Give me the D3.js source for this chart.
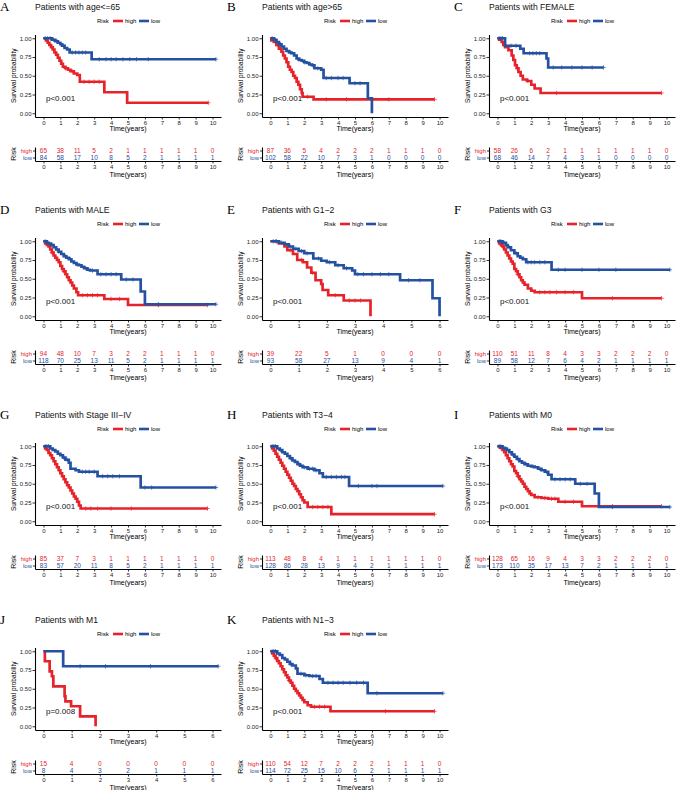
<!DOCTYPE html>
<html>
<head>
<meta charset="utf-8">
<script src="https://cdn.jsdelivr.net/npm/d3@7"></script>
<style>
  body { margin: 0; background: #fff; }
  text { font-family: "Liberation Sans", Arial, sans-serif; }
</style>
</head>
<body>
<div id="chart"></div>
<script>
// ---- data ----
var panelLetters = ["A", "B", "C", "D", "E", "F", "G", "H", "I", "J", "K"];
var panelTitles = ["Patients with age<=65", "Patients with age>65", "Patients with FEMALE",
  "Patients with MALE", "Patients with G1\u22122", "Patients with G3",
  "Patients with Stage III\u2212IV", "Patients with T3\u22124", "Patients with M0",
  "Patients with M1", "Patients with N1\u22123"];
var pValues = ["p<0.001", "p<0.001", "p<0.001", "p<0.001", "p<0.001", "p<0.001",
  "p<0.001", "p<0.001", "p<0.001", "p=0.008", "p<0.001"];
var timeMax = [10, 10, 10, 10, 6, 10, 10, 10, 10, 6, 10];

// survival steps [time, probability]
var ageLe65High = [[0,1],[0.15,0.97],[0.25,0.94],[0.35,0.91],[0.45,0.88],[0.55,0.85],[0.65,0.81],[0.75,0.78],[0.85,0.74],[0.95,0.7],[1.05,0.66],[1.15,0.62],[1.3,0.6],[1.45,0.58],[1.6,0.56],[1.8,0.53],[2.0,0.51],[2.15,0.42],[3.6,0.28],[4.95,0.14],[9.75,0.14]];
var ageLe65Low = [[0,1],[0.5,0.98],[0.7,0.96],[0.85,0.94],[1.0,0.92],[1.1,0.9],[1.25,0.87],[1.4,0.85],[1.55,0.81],[2.85,0.72],[10.2,0.72]];
var ageGt65High = [[0,1],[0.05,0.97],[0.2,0.95],[0.35,0.91],[0.5,0.86],[0.65,0.82],[0.75,0.77],[0.85,0.73],[0.95,0.68],[1.05,0.62],[1.15,0.58],[1.25,0.55],[1.35,0.5],[1.45,0.47],[1.55,0.42],[1.65,0.38],[1.75,0.32],[1.85,0.27],[1.9,0.22],[2.55,0.185],[9.7,0.185]];
var ageGt65Low = [[0,1],[0.2,0.98],[0.35,0.95],[0.5,0.92],[0.65,0.89],[0.8,0.86],[0.95,0.83],[1.1,0.81],[1.25,0.8],[1.4,0.77],[1.55,0.73],[1.7,0.71],[1.85,0.7],[2.0,0.68],[2.15,0.67],[2.3,0.65],[2.45,0.64],[2.6,0.6],[3.0,0.58],[3.14,0.47],[4.68,0.4],[5.76,0.2],[6.0,0]];
var femaleHigh = [[0,1],[0.1,0.98],[0.25,0.95],[0.35,0.91],[0.45,0.88],[0.65,0.84],[0.84,0.77],[0.94,0.71],[1.04,0.64],[1.14,0.6],[1.24,0.55],[1.37,0.5],[1.5,0.45],[1.75,0.43],[2.0,0.38],[2.2,0.33],[2.55,0.27],[9.7,0.27]];
var femaleLow = [[0,1],[0.45,0.9],[1.35,0.86],[1.55,0.8],[2.9,0.73],[3.0,0.61],[6.27,0.61]];
var maleHigh = [[0,1],[0.1,0.97],[0.2,0.95],[0.3,0.93],[0.4,0.89],[0.5,0.85],[0.6,0.81],[0.7,0.78],[0.8,0.75],[0.9,0.72],[1.0,0.67],[1.1,0.63],[1.2,0.6],[1.3,0.56],[1.4,0.52],[1.5,0.48],[1.6,0.45],[1.7,0.41],[1.8,0.37],[1.95,0.32],[2.05,0.28],[3.6,0.23],[5.0,0.15],[9.7,0.15]];
var maleLow = [[0,1],[0.2,0.98],[0.3,0.97],[0.45,0.95],[0.6,0.92],[0.75,0.89],[0.9,0.86],[1.05,0.83],[1.2,0.8],[1.35,0.78],[1.5,0.76],[1.65,0.73],[1.8,0.71],[1.95,0.69],[2.1,0.68],[2.25,0.66],[2.4,0.64],[2.6,0.62],[2.75,0.61],[3.2,0.56],[4.6,0.49],[5.75,0.33],[6.0,0.16],[10.2,0.16]];
var g12High = [[0,1],[0.3,0.97],[0.5,0.93],[0.6,0.88],[0.8,0.83],[0.95,0.75],[1.15,0.72],[1.3,0.65],[1.45,0.58],[1.6,0.48],[1.8,0.43],[1.85,0.35],[2.05,0.28],[2.6,0.21],[3.55,0]];
var g12Low = [[0,1],[0.3,0.98],[0.5,0.96],[0.65,0.93],[0.8,0.9],[1.0,0.87],[1.2,0.84],[1.52,0.77],[1.8,0.74],[2.0,0.72],[2.3,0.68],[2.6,0.64],[2.9,0.61],[3.0,0.56],[4.6,0.48],[5.75,0.24],[6.0,0]];
var g3High = [[0,1],[0.1,0.97],[0.2,0.95],[0.3,0.93],[0.4,0.89],[0.5,0.85],[0.6,0.81],[0.7,0.77],[0.8,0.73],[0.9,0.7],[1.0,0.63],[1.1,0.6],[1.2,0.56],[1.3,0.52],[1.4,0.48],[1.5,0.45],[1.6,0.42],[1.8,0.37],[2.0,0.34],[2.2,0.32],[5.0,0.24],[9.7,0.24]];
var g3Low = [[0,1],[0.3,0.98],[0.5,0.95],[0.6,0.92],[0.8,0.88],[1.0,0.84],[1.2,0.8],[1.35,0.78],[1.5,0.76],[1.7,0.72],[3.2,0.62],[10.2,0.62]];
var stageHigh = [[0,1],[0.1,0.97],[0.2,0.95],[0.3,0.91],[0.4,0.88],[0.5,0.84],[0.6,0.8],[0.7,0.76],[0.8,0.72],[0.9,0.68],[1.0,0.64],[1.1,0.6],[1.2,0.56],[1.3,0.52],[1.4,0.48],[1.5,0.45],[1.6,0.41],[1.7,0.37],[1.8,0.33],[1.9,0.3],[2.0,0.26],[2.1,0.21],[2.2,0.17],[9.7,0.17]];
var stageLow = [[0,1],[0.4,0.97],[0.55,0.95],[0.7,0.93],[0.85,0.9],[1.0,0.88],[1.15,0.85],[1.3,0.82],[1.5,0.78],[1.6,0.7],[1.9,0.68],[2.1,0.66],[3.2,0.6],[5.75,0.45],[10.2,0.45]];
var t34High = [[0,1],[0.1,0.97],[0.2,0.94],[0.3,0.9],[0.4,0.86],[0.5,0.82],[0.6,0.78],[0.7,0.74],[0.8,0.7],[0.9,0.66],[1.0,0.62],[1.1,0.58],[1.2,0.54],[1.3,0.5],[1.4,0.47],[1.5,0.43],[1.6,0.4],[1.7,0.36],[1.8,0.32],[1.9,0.28],[2.0,0.25],[2.2,0.19],[3.6,0.094],[9.7,0.094]];
var t34Low = [[0,1],[0.4,0.97],[0.55,0.95],[0.7,0.92],[0.85,0.9],[1.0,0.87],[1.15,0.84],[1.3,0.81],[1.45,0.79],[1.6,0.76],[1.75,0.74],[1.9,0.72],[2.2,0.7],[2.6,0.68],[2.9,0.64],[3.1,0.59],[4.65,0.47],[10.2,0.47]];
var m0High = [[0,1],[0.15,0.98],[0.3,0.95],[0.4,0.92],[0.5,0.88],[0.6,0.84],[0.7,0.8],[0.8,0.76],[0.9,0.73],[1.0,0.67],[1.1,0.64],[1.2,0.6],[1.3,0.56],[1.4,0.53],[1.5,0.5],[1.6,0.46],[1.7,0.43],[1.8,0.4],[1.9,0.37],[2.0,0.35],[2.2,0.32],[2.6,0.31],[3.0,0.3],[3.6,0.26],[5.0,0.2],[9.7,0.2]];
var m0Low = [[0,1],[0.3,0.98],[0.4,0.97],[0.55,0.95],[0.7,0.92],[0.85,0.89],[1.0,0.86],[1.15,0.83],[1.3,0.8],[1.45,0.78],[1.6,0.76],[1.8,0.74],[2.0,0.73],[2.2,0.72],[2.4,0.7],[2.6,0.68],[2.8,0.66],[3.0,0.62],[3.2,0.56],[4.6,0.5],[5.75,0.37],[6.0,0.19],[10.2,0.19]];
var m1High = [[0,1],[0.05,0.867],[0.22,0.733],[0.3,0.667],[0.35,0.533],[0.75,0.4],[0.78,0.333],[0.98,0.267],[1.3,0.133],[1.85,0]];
var m1Low = [[0,1],[0.7,0.8],[6.2,0.8]];
var n13High = [[0,1],[0.1,0.97],[0.2,0.94],[0.3,0.91],[0.4,0.87],[0.5,0.84],[0.6,0.8],[0.7,0.76],[0.8,0.72],[0.9,0.68],[1.0,0.65],[1.1,0.61],[1.2,0.58],[1.3,0.54],[1.4,0.5],[1.5,0.47],[1.6,0.44],[1.7,0.41],[1.8,0.38],[1.9,0.35],[2.0,0.32],[2.2,0.28],[2.4,0.26],[3.55,0.2],[9.7,0.2]];
var n13Low = [[0,1],[0.4,0.97],[0.55,0.95],[0.7,0.91],[0.85,0.89],[1.0,0.86],[1.15,0.83],[1.3,0.81],[1.5,0.77],[1.6,0.7],[2.0,0.68],[2.3,0.67],[2.9,0.63],[3.1,0.58],[5.75,0.44],[10.2,0.44]];

// censoring times
var ageLe65HighCens = [0.5,1.3,1.7,2.4,2.7,3.0,3.3,9.75];
var ageLe65LowCens = [0.1,0.25,0.4,0.6,0.8,1.2,1.7,1.9,2.1,2.3,2.5,3.3,3.7,4.0,4.3,4.7,5.1,5.5,6.2,10.2];
var ageGt65HighCens = [0.4,1.0,2.2,3.3,4.5,6.0,7.0,9.7];
var ageGt65LowCens = [0.1,0.3,0.6,1.2,1.6,2.0,2.5,2.8,3.3,3.6,4.0,4.3,5.0,5.3];
var femaleHighCens = [1.2,1.8,3.5,9.7];
var femaleLowCens = [0.1,0.2,0.3,0.8,1.1,1.9,2.1,2.3,2.5,3.3,3.8,4.4,5.0,5.6,6.27];
var maleHighCens = [0.5,1.2,2.3,2.6,2.9,3.2,4.0,4.5,6.8,9.7];
var maleLowCens = [0.1,0.25,0.5,0.9,1.3,1.6,2.0,2.5,2.9,3.4,3.7,4.0,4.3,4.9,5.3,6.8,10.2];
var g12HighCens = [0.2,0.7,1.1,1.5,2.3,2.8,3.0,3.2];
var g12LowCens = [0.1,0.2,0.4,0.7,0.9,1.1,1.3,1.7,2.1,2.4,2.7,3.1,3.3,3.6,3.9,4.2,4.9,5.3];
var g3HighCens = [0.3,1.2,2.5,2.8,3.1,3.5,4.0,4.5,6.8,9.7];
var g3LowCens = [0.1,0.2,0.4,0.7,1.1,1.8,2.0,2.2,2.5,2.8,3.6,4.0,5.0,6.0,7.0,10.2];
var stageHighCens = [2.5,2.8,3.2,4.0,5.2,9.7];
var stageLowCens = [0.1,0.2,0.3,1.2,1.4,2.3,2.5,2.7,3.0,3.5,3.8,4.1,4.5,6.0,6.4,10.2];
var t34HighCens = [2.5,2.8,3.1,3.4,9.7];
var t34LowCens = [0.1,0.2,0.3,0.6,1.2,1.7,2.0,2.3,2.5,2.7,3.3,3.6,3.9,4.2,4.4,5.2,6.0,6.3,10.2];
var m0HighCens = [0.2,1.2,2.4,2.8,3.2,3.4,4.0,4.5,6.8,9.7];
var m0LowCens = [0.1,0.2,0.5,0.9,1.2,1.7,2.1,2.5,2.9,3.4,3.7,4.0,4.3,4.9,5.3,6.8,10.2];
var m1HighCens = [];
var m1LowCens = [1.3,2.2,3.8,6.2];
var n13HighCens = [0.3,1.1,2.6,2.9,3.2,6.8,9.7];
var n13LowCens = [0.1,0.2,0.3,1.2,1.8,2.1,2.5,2.7,3.4,3.7,4.0,4.3,4.7,5.1,5.5,6.3,10.2];

// numbers at risk, one per yearly tick
var ageLe65RiskHigh = [65,38,11,5,2,1,1,1,1,1,0];
var ageLe65RiskLow = [84,58,17,10,8,5,2,1,1,1,1];
var ageGt65RiskHigh = [87,36,5,4,2,2,2,1,1,1,0];
var ageGt65RiskLow = [102,58,22,10,7,3,1,0,0,0,0];
var femaleRiskHigh = [58,26,6,2,1,1,1,1,1,1,0];
var femaleRiskLow = [68,46,14,7,4,3,1,0,0,0,0];
var maleRiskHigh = [94,48,10,7,3,2,2,1,1,1,0];
var maleRiskLow = [118,70,25,13,11,5,2,1,1,1,1];
var g12RiskHigh = [39,22,5,1,0,0,0];
var g12RiskLow = [93,58,27,13,9,4,1];
var g3RiskHigh = [110,51,11,8,4,3,3,2,2,2,0];
var g3RiskLow = [89,58,12,7,6,4,2,1,1,1,1];
var stageRiskHigh = [85,37,7,3,1,1,1,1,1,1,0];
var stageRiskLow = [83,57,20,11,8,5,2,1,1,1,1];
var t34RiskHigh = [113,48,8,4,1,1,1,1,1,1,0];
var t34RiskLow = [128,86,28,13,9,4,2,1,1,1,1];
var m0RiskHigh = [128,65,16,9,4,3,3,2,2,2,0];
var m0RiskLow = [173,110,35,17,13,7,2,1,1,1,1];
var m1RiskHigh = [15,4,0,0,0,0,0];
var m1RiskLow = [8,4,3,2,1,1,1];
var n13RiskHigh = [110,54,12,7,2,2,2,1,1,1,0];
var n13RiskLow = [114,72,25,15,10,6,2,1,1,1,1];

var highCurves = [ageLe65High, ageGt65High, femaleHigh, maleHigh, g12High, g3High, stageHigh, t34High, m0High, m1High, n13High];
var lowCurves = [ageLe65Low, ageGt65Low, femaleLow, maleLow, g12Low, g3Low, stageLow, t34Low, m0Low, m1Low, n13Low];
var highCens = [ageLe65HighCens, ageGt65HighCens, femaleHighCens, maleHighCens, g12HighCens, g3HighCens, stageHighCens, t34HighCens, m0HighCens, m1HighCens, n13HighCens];
var lowCens = [ageLe65LowCens, ageGt65LowCens, femaleLowCens, maleLowCens, g12LowCens, g3LowCens, stageLowCens, t34LowCens, m0LowCens, m1LowCens, n13LowCens];
var riskHigh = [ageLe65RiskHigh, ageGt65RiskHigh, femaleRiskHigh, maleRiskHigh, g12RiskHigh, g3RiskHigh, stageRiskHigh, t34RiskHigh, m0RiskHigh, m1RiskHigh, n13RiskHigh];
var riskLow = [ageLe65RiskLow, ageGt65RiskLow, femaleRiskLow, maleRiskLow, g12RiskLow, g3RiskLow, stageRiskLow, t34RiskLow, m0RiskLow, m1RiskLow, n13RiskLow];

// ---- drawing ----
var red = "#E6232A", blue = "#2451A1";
var colX = [0, 227, 454];
var rowY = [0, 203, 408, 613];

var svg = d3.select("#chart").append("svg")
    .attr("width", 676)
    .attr("height", 790);

function stepValue(curve, t) {
  var s = curve[0][1];
  curve.forEach(function(d) { if (d[0] <= t) s = d[1]; });
  return s;
}

function styleAxis(g, size) {
  g.attr("font-family", null).attr("font-size", null);
  g.selectAll(".domain").attr("stroke", "#000").attr("stroke-width", 1.1);
  g.selectAll(".tick line").attr("stroke", "#000").attr("stroke-width", 0.8);
  g.selectAll(".tick text").attr("fill", "#222").style("font-size", size + "px");
}

panelTitles.forEach(function(title, i) {
  var ox = colX[i % 3], oy = rowY[Math.floor(i / 3)];
  var tmax = timeMax[i];
  var g = svg.append("g").attr("transform", "translate(" + ox + "," + oy + ")");

  var x = d3.scaleLinear().domain([-0.05 * tmax, 1.05 * tmax]).range([35, 221]);
  var y = d3.scaleLinear().domain([-0.05, 1.05]).range([117, 34.5]);
  var ticks = d3.range(0, tmax + 1, 1);
  var fmt = d3.format("d");

  // letter + title
  g.append("text").attr("x", 0).attr("y", 10.5)
    .style("font-family", "'Liberation Serif', 'Times New Roman', serif")
    .style("font-size", "13px").text(panelLetters[i]);
  g.append("text").attr("x", 35).attr("y", 9.5)
    .style("font-size", "8.6px").attr("fill", "#111").text(title);

  // legend
  g.append("text").attr("x", 97).attr("y", 23).style("font-size", "6px").text("Risk");
  g.append("line").attr("x1", 113).attr("x2", 123).attr("y1", 21).attr("y2", 21)
    .attr("stroke", red).attr("stroke-width", 2.6);
  g.append("text").attr("x", 125).attr("y", 23).style("font-size", "6px").text("high");
  g.append("line").attr("x1", 139).attr("x2", 149).attr("y1", 21).attr("y2", 21)
    .attr("stroke", blue).attr("stroke-width", 2.6);
  g.append("text").attr("x", 151).attr("y", 23).style("font-size", "6px").text("low");

  // axes
  g.append("g").attr("transform", "translate(0,117)")
    .call(d3.axisBottom(x).tickValues(ticks).tickFormat(fmt).tickSize(2.5).tickSizeOuter(0).tickPadding(0.8))
    .call(styleAxis, 6);
  g.append("g").attr("transform", "translate(35,0)")
    .call(d3.axisLeft(y).tickValues([0, 0.25, 0.5, 0.75, 1]).tickFormat(d3.format(".2f"))
      .tickSize(2.5).tickSizeOuter(0).tickPadding(1))
    .call(styleAxis, 6);

  g.append("text").attr("x", 128).attr("y", 130.5).attr("text-anchor", "middle")
    .style("font-size", "7px").text("Time(years)");
  g.append("text").attr("transform", "translate(16,75.75) rotate(-90)")
    .attr("text-anchor", "middle").style("font-size", "6.5px").text("Survival probability");

  // curves
  var line = d3.line()
    .x(function(d) { return x(d[0]); })
    .y(function(d) { return y(d[1]); })
    .curve(d3.curveStepAfter);

  [[highCurves[i], highCens[i], red], [lowCurves[i], lowCens[i], blue]].forEach(function(s) {
    g.append("path").datum(s[0])
      .attr("fill", "none").attr("stroke", s[2]).attr("stroke-width", 2.7)
      .attr("d", line);
    g.append("g").selectAll("path").data(s[1]).enter().append("path")
      .attr("d", function(t) {
        var cx = x(t), cy = y(stepValue(s[0], t));
        return "M" + (cx - 2.2) + "," + cy + "h4.4M" + cx + "," + (cy - 2.2) + "v4.4";
      })
      .attr("stroke", s[2]).attr("stroke-width", 0.7).attr("fill", "none");
  });

  g.append("text").attr("x", x(0) + 2.5).attr("y", y(0.2))
    .attr("dy", "0.35em").style("font-size", "8px").attr("fill", "#111").text(pValues[i]);

  // risk table
  var yT = d3.scalePoint().domain(["low", "high"]).range([161, 147]).padding(0.5);
  g.append("g").attr("transform", "translate(0,161)")
    .call(d3.axisBottom(x).tickValues(ticks).tickFormat(fmt).tickSize(2.5).tickSizeOuter(0).tickPadding(0.8))
    .call(styleAxis, 6);
  var ta = g.append("g").attr("transform", "translate(35,0)")
    .call(d3.axisLeft(yT).tickSize(2).tickSizeOuter(0).tickPadding(1))
    .call(styleAxis, 6);
  ta.selectAll(".tick text").attr("fill", function(d) { return d === "high" ? red : blue; });

  g.append("text").attr("transform", "translate(16,154) rotate(-90)")
    .attr("text-anchor", "middle").style("font-size", "7px").text("Risk");

  [["high", riskHigh[i], red], ["low", riskLow[i], blue]].forEach(function(r) {
    g.append("g").selectAll("text").data(r[1]).enter().append("text")
      .attr("x", function(d, k) { return x(ticks[k]); })
      .attr("y", yT(r[0]))
      .attr("dy", "0.36em")
      .attr("text-anchor", "middle")
      .attr("fill", r[2])
      .style("font-size", "6.5px")
      .text(function(d) { return d; });
  });

  g.append("text").attr("x", 128).attr("y", 176.5).attr("text-anchor", "middle")
    .style("font-size", "7px").text("Time(years)");
});
</script>
</body>
</html>
